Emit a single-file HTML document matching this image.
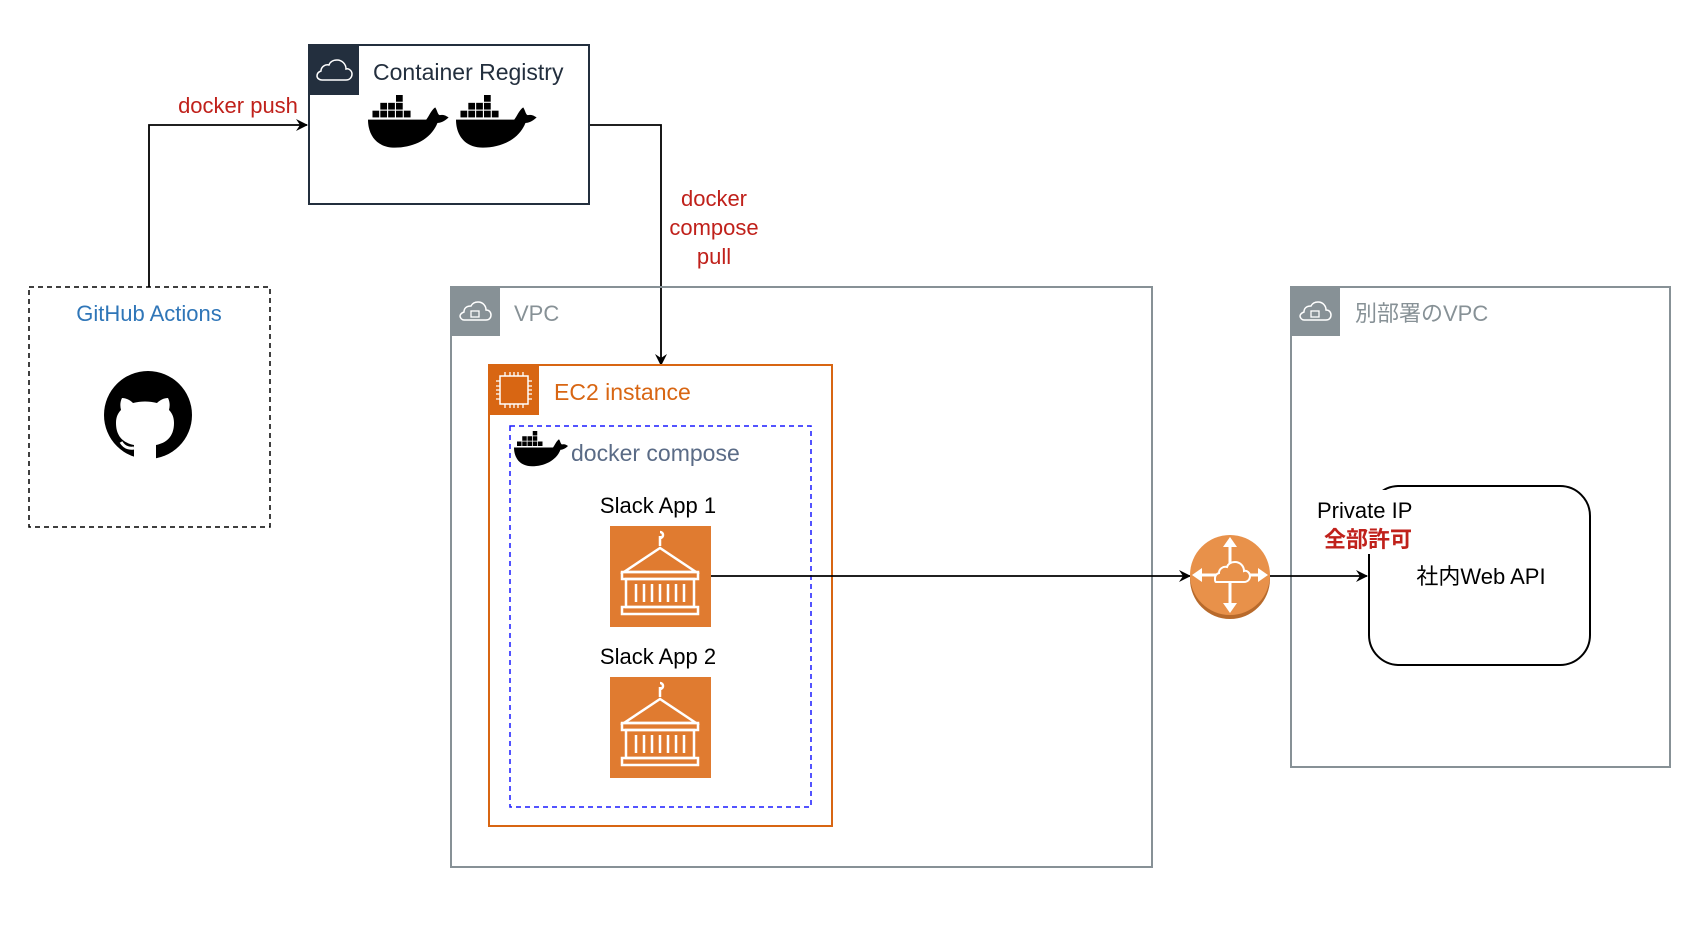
<!DOCTYPE html>
<html><head><meta charset="utf-8"><style>
html,body{margin:0;padding:0;background:#fff;}
svg{display:block;font-family:"Liberation Sans","Noto Sans CJK JP",sans-serif;}
</style></head><body>
<svg width="1704" height="934" viewBox="0 0 1704 934" xmlns="http://www.w3.org/2000/svg">
<defs>
<marker id="ar" markerWidth="12" markerHeight="12" refX="11" refY="6" orient="auto" markerUnits="userSpaceOnUse">
<path d="M0,0 L12,6 L0,12 L4,6 Z" fill="#000"/>
</marker>
<g id="whale">
<rect x="4" y="14" width="6" height="6"/><rect x="11" y="14" width="6" height="6"/><rect x="18" y="14" width="6" height="6"/><rect x="25" y="14" width="6" height="6"/><rect x="32" y="14" width="6" height="6"/>
<rect x="11" y="7" width="6" height="6"/><rect x="18" y="7" width="6" height="6"/><rect x="25" y="7" width="6" height="6"/>
<rect x="25" y="0" width="6" height="6"/>
<path d="M0,22 L52,22 C55,18 56,14 60,11 C62,14 62,17 64,18 C68,17 70,19 72,20 C68,24 64,25 62,25 C56,40 40,47 24,47 C8,47 0,36 0,22 Z"/>
</g>
<g id="cont">
<rect x="0" y="0" width="101" height="101" fill="#e07b30"/>
<g fill="none" stroke="#fff" stroke-width="2.5">
<path d="M50,10 v10 M50,12 c4,0 4,-6 0,-6"/>
<path d="M50,22 L14,46 L86,46 Z"/>
<rect x="12" y="46" width="76" height="7"/>
<rect x="16" y="53" width="68" height="28"/>
<rect x="12" y="81" width="76" height="7"/>
<path d="M26,58 v18 M34,58 v18 M42,58 v18 M50,58 v18 M58,58 v18 M66,58 v18 M74,58 v18"/>
</g>
</g>
</defs>

<!-- GitHub Actions -->
<rect x="29" y="287" width="241" height="240" fill="none" stroke="#000" stroke-width="1.5" stroke-dasharray="5,4"/>
<text x="149" y="321" font-size="22" fill="#2f76b8" text-anchor="middle">GitHub Actions</text>
<circle cx="148" cy="415" r="44" fill="#000"/>
<path d="M134,459 v-14 c-10,-2 -18,-8 -18,-22 c0,-6 2,-10 5,-13 c-1,-4 -1,-8 1,-12 c4,0 8,2 11,5 c8,-2 16,-2 24,0 c3,-3 7,-5 11,-5 c2,4 2,8 1,12 c3,3 5,7 5,13 c0,14 -8,20 -18,22 v14 Z" fill="#fff"/>
<path d="M134,448 c-6,1 -10,-1 -13,-6" stroke="#fff" stroke-width="3" fill="none"/>

<!-- arrows -->
<path d="M149,287 V125 H307" fill="none" stroke="#000" stroke-width="1.8" marker-end="url(#ar)"/>
<text x="238" y="113" font-size="22" fill="#c0211b" text-anchor="middle">docker push</text>
<path d="M589,125 H661 V365" fill="none" stroke="#000" stroke-width="1.8" marker-end="url(#ar)"/>
<text font-size="22" fill="#c0211b" text-anchor="middle"><tspan x="714" y="206">docker</tspan><tspan x="714" y="235">compose</tspan><tspan x="714" y="264">pull</tspan></text>

<!-- Container Registry -->
<rect x="309" y="45" width="280" height="159" fill="#fff" stroke="#232f3e" stroke-width="2"/>
<rect x="309" y="45" width="50" height="50" fill="#232f3e"/>
<path d="M322,80 h24 c4,0 6,-3 6,-6 c0,-3 -3,-6 -6,-5 c0,-5 -4,-9 -9,-9 c-4,0 -7,2 -8,5 c-4,-1 -8,2 -8,6 c-3,1 -4,3 -4,5 c0,2 2,4 5,4 Z" fill="none" stroke="#fff" stroke-width="1.5"/>
<text x="373" y="80" font-size="23" fill="#232f3e">Container Registry</text>
<use href="#whale" transform="translate(368,95) scale(1.12)"/>
<use href="#whale" transform="translate(456,95) scale(1.12)"/>

<!-- VPC -->
<rect x="451" y="287" width="701" height="580" fill="none" stroke="#879196" stroke-width="2"/>
<rect x="451" y="287" width="49" height="49" fill="#879196"/>
<path d="M464,320 h22 c3,0 5,-2 5,-5 c0,-3 -2,-5 -5,-5 c0,-4 -3,-8 -8,-8 c-4,0 -6,2 -7,4 c-4,0 -7,2 -7,6 c-3,1 -4,3 -4,4 c0,2 2,4 4,4 Z" fill="none" stroke="#fff" stroke-width="1.5"/>
<rect x="471" y="311" width="8" height="6" fill="none" stroke="#fff" stroke-width="1.3"/>
<text x="514" y="321" font-size="22" fill="#879196">VPC</text>

<!-- VPC 2 -->
<rect x="1291" y="287" width="379" height="480" fill="none" stroke="#879196" stroke-width="2"/>
<rect x="1291" y="287" width="49" height="49" fill="#879196"/>
<path d="M1304,320 h22 c3,0 5,-2 5,-5 c0,-3 -2,-5 -5,-5 c0,-4 -3,-8 -8,-8 c-4,0 -6,2 -7,4 c-4,0 -7,2 -7,6 c-3,1 -4,3 -4,4 c0,2 2,4 4,4 Z" fill="none" stroke="#fff" stroke-width="1.5"/>
<rect x="1311" y="311" width="8" height="6" fill="none" stroke="#fff" stroke-width="1.3"/>
<text x="1355" y="321" font-size="22" fill="#879196">別部署のVPC</text>

<!-- EC2 -->
<rect x="489" y="365" width="343" height="461" fill="none" stroke="#d86613" stroke-width="2"/>
<rect x="489" y="365" width="50" height="50" fill="#d86613"/>
<rect x="500" y="376" width="28" height="28" fill="none" stroke="#fff" stroke-width="1.5"/>
<path d="M505,372 v4 M510,372 v4 M514,372 v4 M518,372 v4 M523,372 v4 M505,404 v4 M510,404 v4 M514,404 v4 M518,404 v4 M523,404 v4 M496,381 h4 M496,386 h4 M496,390 h4 M496,394 h4 M496,399 h4 M528,381 h4 M528,386 h4 M528,390 h4 M528,394 h4 M528,399 h4" stroke="#fff" stroke-width="1.3"/>
<text x="554" y="400" font-size="23" fill="#d86613">EC2 instance</text>

<!-- compose -->
<rect x="510" y="426" width="301" height="381" fill="none" stroke="#1a1aff" stroke-width="1.5" stroke-dasharray="5,4"/>
<use href="#whale" transform="translate(514,431) scale(0.75)"/>
<text x="571" y="461" font-size="23" fill="#5a6b86">docker compose</text>

<text x="658" y="513" font-size="22" fill="#000" text-anchor="middle">Slack App 1</text>
<use href="#cont" x="610" y="526"/>
<text x="658" y="664" font-size="22" fill="#000" text-anchor="middle">Slack App 2</text>
<use href="#cont" x="610" y="677"/>

<!-- connectors -->
<path d="M711,576 H1190" fill="none" stroke="#000" stroke-width="1.8" marker-end="url(#ar)"/>
<path d="M1270,576 H1367" fill="none" stroke="#000" stroke-width="1.8" marker-end="url(#ar)"/>

<!-- router -->
<circle cx="1230" cy="579" r="40" fill="#b86a2b"/>
<circle cx="1230" cy="575" r="40" fill="#e8914a"/>
<g stroke="#fff" stroke-width="3" fill="#fff">
<path d="M1230,543 v64 M1198,575 h64" fill="none"/>
<path d="M1230,537 l-7,10 h14 Z M1230,613 l-7,-10 h14 Z M1192,575 l10,-7 v14 Z M1268,575 l-10,-7 v14 Z" stroke="none"/>
</g>
<path d="M1216,582 h28 c4,0 6,-3 6,-6 c0,-3 -3,-6 -6,-5 c0,-5 -4,-9 -9,-9 c-4,0 -7,2 -8,5 c-4,-1 -8,2 -8,6 c-3,1 -4,3 -4,5 c0,2 0,4 1,4 Z" fill="#e8914a" stroke="#fff" stroke-width="2"/>

<!-- Web API -->
<rect x="1369" y="486" width="221" height="179" rx="30" fill="none" stroke="#000" stroke-width="2"/>
<rect x="1310" y="490" width="110" height="64" fill="#fff"/>
<text x="1317" y="518" font-size="22" fill="#000">Private IP</text>
<text x="1324" y="547" font-size="22" font-weight="bold" fill="#c0211b">全部許可</text>
<text x="1481" y="584" font-size="22" fill="#000" text-anchor="middle">社内Web API</text>
</svg>
</body></html>
